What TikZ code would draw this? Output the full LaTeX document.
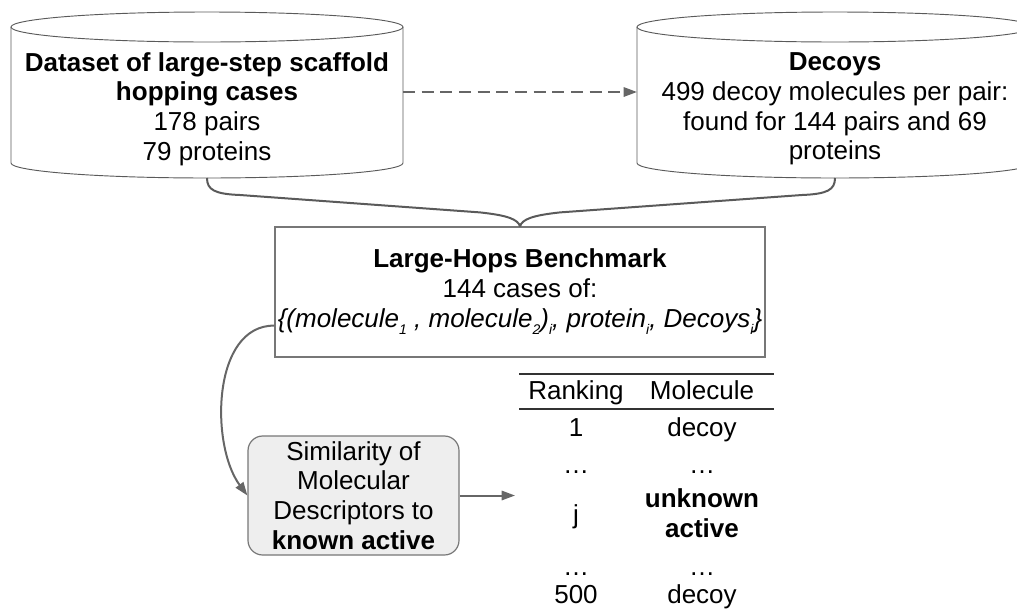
\documentclass[tikz,border=0pt]{standalone}
\usepackage{fontspec}
\setmainfont{Liberation Sans}
\usepackage{tikz}
\usetikzlibrary{positioning, calc, arrows.meta}

\definecolor{linegray}{HTML}{666666}
\definecolor{bracegray}{HTML}{5A5A5A}
\definecolor{boxgray}{HTML}{777777}
\definecolor{boxfill}{HTML}{EEEEEE}

\newcommand{\lowsub}[1]{\raisebox{-0.55ex}{\fontsize{10.5}{10.5}\selectfont #1}}

\tikzset{
  dbline/.style={draw=bracegray, line width=0.7pt},
  dbtext/.style={align=center, inner sep=0pt},
  brace/.style={draw=bracegray, line width=1.5pt},
  flow/.style={draw=linegray, line width=1.5pt, -{Triangle[length=10pt, width=7pt]}},
  benchbox/.style={draw=boxgray, line width=0.9pt, align=center, minimum width=367.5pt, minimum height=97.5pt, inner sep=0pt},
  simbox/.style={draw=boxgray, fill=boxfill, line width=0.9pt, rounded corners=11pt, align=center, minimum width=158.25pt, minimum height=89.25pt, inner sep=0pt},
  tabrule/.style={draw=black!80, line width=1pt},
  cell/.style={anchor=base, inner sep=0pt}
}

\begin{document}
\begin{tikzpicture}[x=0.75pt, y=-0.75pt, font=\fontsize{19.5}{22.3}\selectfont]

\useasboundingbox (0,0) rectangle (1017,611);

%// the two databases
\foreach \cx/\hw in {207/196, 835/198}{
\draw[dbline] (\cx-\hw,27) -- (\cx-\hw,163) arc[start angle=180, end angle=0, x radius=\hw, y radius=15] -- (\cx+\hw,27);
\draw[dbline] (\cx,27) ellipse [x radius=\hw, y radius=15];
}

\coordinate (databot) at (207,178);
\coordinate (decoybot) at (835,178);
\coordinate (dataside) at (403,92);
\coordinate (decoyside) at (637,92);

\node[dbtext] (data) at (207,109) {\textbf{Dataset of large-step scaffold}\\\textbf{hopping cases}\\178 pairs\\79 proteins};
\node[dbtext] (decoys) at (835,109) {\textbf{Decoys}\\499 decoy molecules per pair:\\found for 144 pairs and 69\\proteins};

\draw[flow, dash pattern=on 9pt off 5pt] (dataside) -- (decoyside);

%// benchmark
\node[benchbox] (bench) at (520,292) {\textbf{Large-Hops Benchmark}\\144 cases of:\\\textit{\{(molecule\lowsub{1} , molecule\lowsub{2})\lowsub{i}, protein\lowsub{i}, Decoys\lowsub{i}\}}};

\draw[brace] (databot) .. controls ($(databot)+(0,12)$) and ($(databot)+(8,16)$) .. ($(databot)+(33,17)$)
  -- ($(bench.north)+(-40,-14)$) .. controls ($(bench.north)+(-12,-11)$) and ($(bench.north)+(-2,-7)$) .. (bench.north);
\draw[brace] (decoybot) .. controls ($(decoybot)+(0,12)$) and ($(decoybot)+(-8,16)$) .. ($(decoybot)+(-33,17)$)
  -- ($(bench.north)+(40,-14)$) .. controls ($(bench.north)+(12,-11)$) and ($(bench.north)+(2,-7)$) .. (bench.north);

%// similarity search
\node[simbox] (sim) at (353.5,495.5) {Similarity of\\Molecular\\Descriptors to\\\textbf{known active}};

\draw[flow] ($(bench.south west)+(0,-32)$) .. controls (212,325) and (210,445) .. (sim.west);

\coordinate (rankin) at (515,495.5);
\draw[flow] (sim.east) -- (rankin);

%// ranking table
\draw[tabrule] (519,374) -- (774,374);
\draw[tabrule] (519,409) -- (774,409);

\foreach \y/\rank/\mol [count=\i] in {399/Ranking/Molecule, 436/1/decoy, 473/\dots/\dots, 575/\dots/\dots, 603/500/decoy}{
\node[cell] (rank\i) at (576,\y) {\rank};
\node[cell] (mol\i) at (702,\y) {\mol};
}

\node[cell] (rankj) at (576,523) {j};
\node[cell] (molj) at (702,507) {\textbf{unknown}};
\node[cell] (molj2) at (702,537) {\textbf{active}};

\end{tikzpicture}
\end{document}
